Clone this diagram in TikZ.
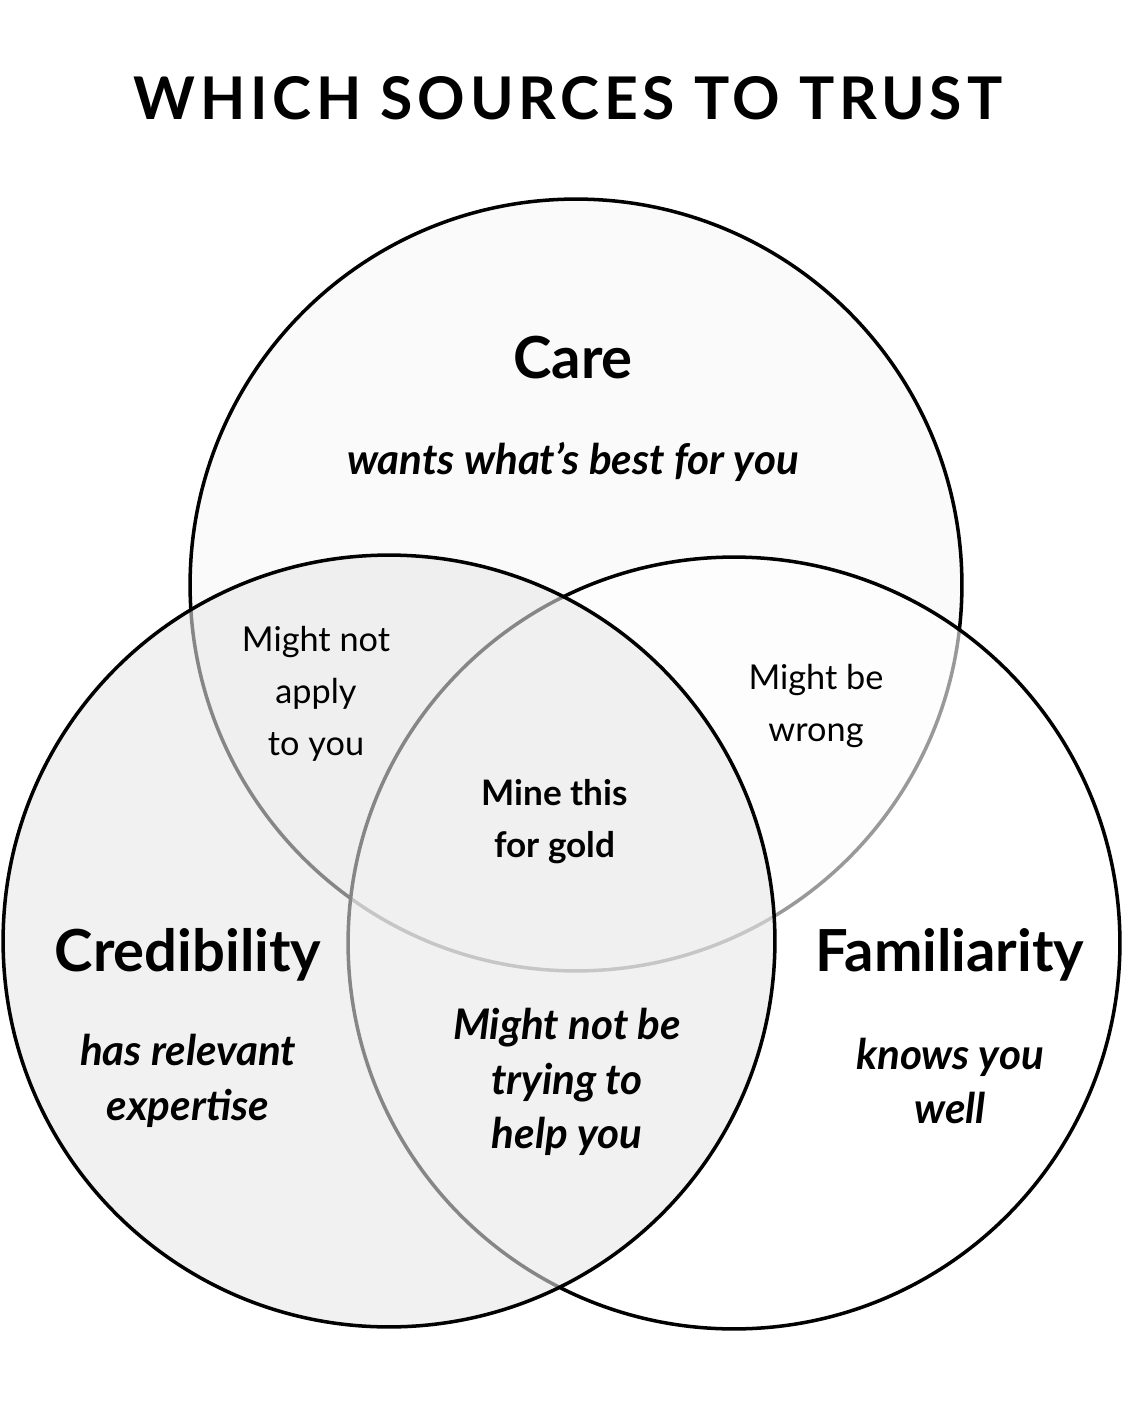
\documentclass[tikz,border=0pt]{standalone}
\usepackage{fontspec}
\setmainfont{Lato}
\newfontfamily\titlefont{Lato}[LetterSpace=8]
\begin{document}
\begin{tikzpicture}[x=0.02cm,y=-0.02cm,
  ring/.style={circle,draw=black,line width=2pt,minimum size=15.44cm,inner sep=0pt},
  title/.style={font=\titlefont\fontsize{33.5}{40}\selectfont\bfseries},
  head/.style={font=\fontsize{33}{40}\selectfont\bfseries},
  desc/.style={font=\fontsize{24}{31}\selectfont\itshape\bfseries,align=center},
  zone/.style={font=\fontsize{19.5}{29.6}\selectfont,align=center},
  gold/.style={font=\fontsize{20}{29.6}\selectfont\bfseries,align=center}]

%% page
\fill[white] (0,0) rectangle (1125,1412);
\useasboundingbox (0,0) rectangle (1125,1412);

\node[title] (title) at (568,98) {WHICH SOURCES TO TRUST};

%% the three circles
\node[ring,fill=black!2] (care) at (576,585) {};
\node[ring,fill=white,fill opacity=0.6] (fam) at (734,943) {};
\node[ring,fill=black!9,fill opacity=0.58] (cred) at (389,941) {};

%% names
\node[head] (carename) at (573,358) {Care};
\node[desc] (caretext) at (573,462) {wants what’s best for you};
\node[head] (credname) at (188,955) {Credibility};
\node[desc] (credtext) at (188,1081) {has relevant\\expertise};
\node[head] (famname) at (950,955) {Familiarity};
\node[desc] (famtext) at (950,1081) {knows you\\well};

%% overlaps
\node[zone] (carecred) at (316,694) {Might not\\apply\\to you};
\node[zone] (carefam) at (816,706) {Might be\\wrong};
\node[gold] (all) at (555,822) {Mine this\\for gold};
\node[desc] (credfam) at (567,1082) {Might not be\\trying to\\help you};

\end{tikzpicture}
\end{document}
